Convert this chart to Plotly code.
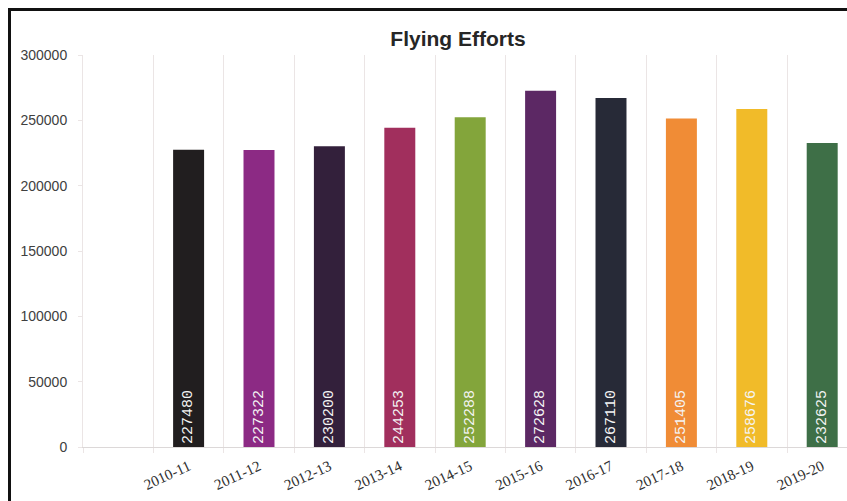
import plotly.graph_objects as go

# ---- data ----
years = ["2010-11", "2011-12", "2012-13", "2013-14", "2014-15",
         "2015-16", "2016-17", "2017-18", "2018-19", "2019-20"]
flying_efforts = [227480, 227322, 230200, 244253, 252288,
                  272628, 267110, 251405, 258676, 232625]
bar_colors = ["#211e1f", "#8c2a84", "#33203b", "#a12f5d", "#83a53b",
              "#5c2864", "#272a37", "#f08c36", "#f1bb29", "#3e6f47"]
y_ticks = [0, 50000, 100000, 150000, 200000, 250000, 300000]

# leading empty slot, as in the original chart
categories = [" "] + years
values = [None] + flying_efforts
colors = ["#ffffff"] + bar_colors
texts = [""] + [str(v) for v in flying_efforts]

W, H = 847, 501
L, R, T, B = 83, 0, 55, 54
pw, ph = W - L - R, H - T - B

fig = go.Figure()
fig.add_trace(go.Bar(
    x=categories, y=values,
    marker=dict(color=colors, line=dict(width=0)),
    text=texts, textposition="inside", insidetextanchor="start",
    textangle=-90,
    textfont=dict(family="Liberation Mono, Courier New, monospace", size=15, color="#f4f4f4"),
    cliponaxis=False,
    hoverinfo="x+y",
))

grid = "#ebe5e5"
fig.update_layout(
    width=W, height=H,
    margin=dict(l=L, r=R, t=T, b=B),
    paper_bgcolor="#ffffff", plot_bgcolor="#ffffff",
    bargap=0.56,
    showlegend=False,
    title=dict(text="<b>Flying Efforts</b>", x=458 / W, xanchor="center",
               y=1 - 39 / H, yanchor="middle",
               font=dict(family="Liberation Sans, Arial, sans-serif", size=21, color="#262626")),
    xaxis=dict(type="category", categoryorder="array", categoryarray=categories,
               range=[-0.5, (pw / 70.4) - 0.5],
               tickson="boundaries", showgrid=True, gridcolor=grid, gridwidth=1,
               ticks="outside", ticklen=5, tickcolor=grid,
               showline=True, linecolor="#dcd8d8", linewidth=1,
               tickangle=-25, ticklabelstandoff=4,
               tickfont=dict(family="Liberation Serif, Times New Roman, serif", size=15, color="#303030"),
               zeroline=False, fixedrange=True),
    yaxis=dict(range=[0, 300000], tickvals=y_ticks, tickformat="d",
               showgrid=False, zeroline=False,
               showline=True, linecolor=grid, linewidth=1,
               ticks="outside", ticklen=4, tickcolor=grid,
               ticklabelstandoff=8,
               tickfont=dict(family="Liberation Sans, Arial, sans-serif", size=14, color="#404040"),
               fixedrange=True),
)

# page frame (black border at top and left of the cropped chart)
def px_x(p):
    return (p - L) / pw

def px_y(p):
    return (H - B - p) / ph

fig.add_shape(type="line", xref="paper", yref="paper",
              x0=px_x(8), x1=px_x(W + 5), y0=px_y(9.5), y1=px_y(9.5),
              line=dict(color="#111111", width=3))
fig.add_shape(type="line", xref="paper", yref="paper",
              x0=px_x(9.5), x1=px_x(9.5), y0=px_y(8), y1=px_y(H + 5),
              line=dict(color="#111111", width=3))

fig.write_html("out.html")
